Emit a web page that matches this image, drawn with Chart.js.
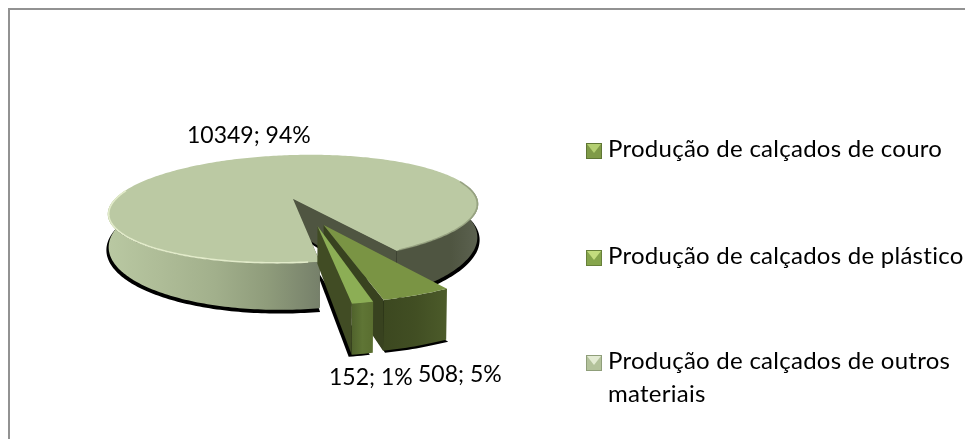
<!DOCTYPE html>
<html lang="pt">
<head>
<meta charset="utf-8">
<title>Produção de calçados</title>
<script src="https://cdn.jsdelivr.net/npm/chart.js@4"></script>
<style>
  html, body { margin: 0; background: #fff; overflow: hidden; }
  #wrap { position: relative; width: 965px; height: 439px; }
  #frame { position: absolute; left: 8px; top: 8px; right: 0; bottom: 0; border-left: 2px solid #929292; border-top: 2px solid #929292; }
  canvas { position: absolute; left: 0; top: 0; }
</style>
</head>
<body>
<div id="wrap">
  <div id="frame"></div>
  <canvas id="pieChart" width="965" height="439"></canvas>
</div>
<script>
const categories = ["Produção de calçados de couro", "Produção de calçados de plástico", "Produção de calçados de outros materiais"];
const values = [508, 152, 10349];

const explode = [80, 80, 0];
const topColors = ["#7a9444", "#8cae55", "#bbc9a3"];
const legendColors = [["#7f9a47", "#b4cf72", "#5f7634"], ["#86a54c", "#c3dc7e", "#67803a"], ["#b3c29b", "#e3ebd3", "#8f9e7a"]];

// where the value labels sit (left edge, baseline)
const labelSpots = [[418, 382], [329, 385], [187, 143]];
const legendSpots = [157, 264, 369];
// small screen shifts of the pulled-out pieces
const nudges = [[-4, 0], [8, -1], [0, 0]];

// view of the tilted pie, relative to the radius the library gives
const view = { sx: 1.145, sy: 0.328, persp: 0.185, roll: 0.027, depth: 0.195 };
const rad = d => d * Math.PI / 180;

function project(arc, u, v, down) {
  const w = 1 - view.persp * v;
  const R = arc.outerRadius;
  const dx = R * view.sx * u / w;
  let y = arc.y + R * view.sy * v / w - view.roll * dx;
  if (down) y += down * R * view.depth / Math.pow(Math.max(w, 0.78), 2);
  return [arc.x + dx * (down ? 0.995 : 1) + arc.nudge[0], y + arc.nudge[1]];
}

function rimPoints(arc, from, to, down, grow) {
  const mid = (arc.startAngle + arc.endAngle) / 2;
  const e = (arc.options.offset || 0) / arc.outerRadius;
  const pts = [];
  const steps = Math.max(2, Math.ceil(Math.abs(to - from) / rad(1)));
  for (let i = 0; i <= steps; i++) {
    const a = from + (to - from) * i / steps;
    pts.push(project(arc, e * Math.cos(mid) + grow * Math.cos(a), e * Math.sin(mid) + grow * Math.sin(a), down));
  }
  return pts;
}

function centerPoint(arc, down) {
  const mid = (arc.startAngle + arc.endAngle) / 2;
  const e = (arc.options.offset || 0) / arc.outerRadius;
  return project(arc, e * Math.cos(mid), e * Math.sin(mid), down);
}

function fillPoly(ctx, pts, fill) {
  ctx.beginPath();
  pts.forEach((p, i) => i ? ctx.lineTo(p[0], p[1]) : ctx.moveTo(p[0], p[1]));
  ctx.closePath();
  ctx.fillStyle = fill;
  ctx.fill();
}

function strokeLine(ctx, pts, color, width) {
  ctx.beginPath();
  pts.forEach((p, i) => i ? ctx.lineTo(p[0], p[1]) : ctx.moveTo(p[0], p[1]));
  ctx.strokeStyle = color;
  ctx.lineWidth = width;
  ctx.stroke();
}

function band(arc, from, to) {
  return rimPoints(arc, from, to, 0, 1).concat(rimPoints(arc, to, from, 1, 1));
}

function hGrad(ctx, pts, stops) {
  const xs = pts.map(p => p[0]);
  const g = ctx.createLinearGradient(Math.min(...xs), 0, Math.max(...xs), 0);
  stops.forEach((c, i) => g.addColorStop(i / (stops.length - 1), c));
  return g;
}

function radialWall(ctx, arc, angle, fill) {
  fillPoly(ctx, [centerPoint(arc, 0), rimPoints(arc, angle, angle, 0, 1)[0], rimPoints(arc, angle, angle, 1, 1)[0], centerPoint(arc, 1)], fill);
}

function topFace(ctx, arc, fill) {
  fillPoly(ctx, [centerPoint(arc, 0)].concat(rimPoints(arc, arc.startAngle, arc.endAngle, 0, 1)), fill);
}

function shadowFace(ctx, arc, grow, sx, sy) {
  ctx.save();
  ctx.translate(sx, sy);
  ctx.filter = "blur(0.6px)";
  fillPoly(ctx, [centerPoint(arc, 1)].concat(rimPoints(arc, arc.startAngle, arc.endAngle, 1, grow)), "#000");
  ctx.restore();
}

const pie3d = {
  id: "pie3d",
  beforeDatasetDraw() { return false; },
  afterDatasetsDraw(chart) {
    const ctx = chart.ctx;
    const arcs = chart.getDatasetMeta(0).data;
    arcs.forEach((a, i) => a.nudge = nudges[i]);
    const [couro, plastico, outros] = arcs;

    // black shadow under the pieces
    shadowFace(ctx, outros, 1.012, 0, 2.5);
    shadowFace(ctx, couro, 1.0, 2, 2);
    shadowFace(ctx, plastico, 1.0, -3, 2);

    // big slice: walls then top
    radialWall(ctx, outros, outros.startAngle, "#4f5541");
    radialWall(ctx, outros, outros.endAngle, "#4f5541");
    const back = band(outros, rad(352), outros.endAngle);
    fillPoly(ctx, back, hGrad(ctx, back, ["#4f5541", "#4f5541", "#4f5541", "#5c6250"]));
    const front = band(outros, outros.startAngle, rad(195));
    fillPoly(ctx, front, hGrad(ctx, front, ["#b9c8a2", "#aebc97", "#a2b08c", "#8f9c7b", "#76806a"]));
    topFace(ctx, outros, topColors[2]);
    strokeLine(ctx, rimPoints(outros, outros.startAngle + rad(3), rad(195), 0, 0.995), "#e2ebca", 1.6);
    strokeLine(ctx, rimPoints(outros, rad(345), outros.endAngle - rad(1), 0, 0.995), "rgba(120,130,100,.55)", 1.6);

    // 5% piece
    radialWall(ctx, couro, couro.endAngle, "#38421f");
    const cBand = band(couro, couro.startAngle, couro.endAngle);
    fillPoly(ctx, cBand, hGrad(ctx, cBand, ["#3c4820", "#414e23", "#4c5b2a"]));
    topFace(ctx, couro, topColors[0]);

    // 1% piece
    radialWall(ctx, plastico, plastico.endAngle, "#414c24");
    const pBand = band(plastico, plastico.startAngle, plastico.endAngle);
    fillPoly(ctx, pBand, hGrad(ctx, pBand, ["#50622c", "#5f7535", "#5a6e30"]));
    topFace(ctx, plastico, topColors[1]);

    // value labels
    const total = values.reduce((s, v) => s + v, 0);
    ctx.fillStyle = "#000";
    ctx.font = "23px Lato";
    ctx.textAlign = "left";
    values.forEach((v, i) => {
      ctx.fillText(v + "; " + Math.round(v / total * 100) + "%", labelSpots[i][0], labelSpots[i][1]);
    });

    // legend
    ctx.font = "24px Lato";
    ctx.letterSpacing = "0.26px";
    categories.forEach((name, i) => {
      const top = legendSpots[i] - 14;
      const [base, light, dark] = legendColors[i];
      ctx.fillStyle = dark;
      ctx.fillRect(586, top, 16, 16);
      ctx.fillStyle = base;
      ctx.fillRect(587, top + 1, 14, 14);
      fillPoly(ctx, [[587, top + 1], [601, top + 1], [594, top + 10]], light);
      ctx.fillStyle = "#000";
      let line = "", y = legendSpots[i];
      name.split(" ").forEach(word => {
        const next = line ? line + " " + word : word;
        if (ctx.measureText(next).width > 368) {
          ctx.fillText(line, 608, y);
          y += 33;
          line = word;
        } else line = next;
      });
      ctx.fillText(line, 608, y);
    });
  }
};

new Chart(document.getElementById("pieChart"), {
  type: "pie",
  data: {
    labels: categories,
    datasets: [{
      data: values,
      backgroundColor: topColors,
      offset: explode,
      borderWidth: 0
    }]
  },
  options: {
    responsive: false,
    animation: false,
    rotation: 151.5,
    layout: { padding: { right: 379, bottom: 41 } },
    plugins: {
      legend: { display: false },
      tooltip: { enabled: false }
    }
  },
  plugins: [pie3d]
});
</script>
</body>
</html>
